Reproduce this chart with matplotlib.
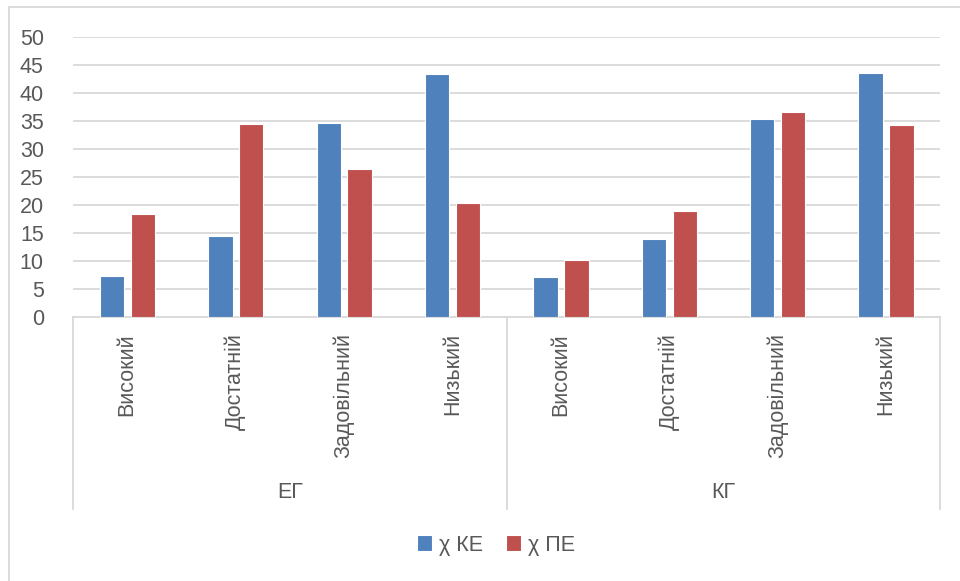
import numpy as np
import matplotlib
matplotlib.use("Agg")
import matplotlib.pyplot as plt
from matplotlib.transforms import blended_transform_factory
from matplotlib.patches import Rectangle

plt.rcParams['font.family'] = ['Liberation Sans', 'DejaVu Sans']

# data
levels = ["Високий", "Достатній", "Задовільний", "Низький"]
groups = ["ЕГ", "КГ"]
ke_eg = [7.3, 14.4, 34.6, 43.4]
pe_eg = [18.3, 34.5, 26.4, 20.4]
ke_kg = [7.1, 13.9, 35.3, 43.6]
pe_kg = [10.2, 18.9, 36.5, 34.2]
series_names = ["χ КЕ", "χ ПЕ"]
yticks = [0, 5, 10, 15, 20, 25, 30, 35, 40, 45, 50]

BLUE = "#4f81bd"
RED = "#c0504d"
GRID = "#d9d9d9"
TXT = "#595959"

W, H = 960, 581
fig = plt.figure(figsize=(W / 100, H / 100), dpi=100)
ax = fig.add_axes([73 / W, (H - 317) / H, (940 - 73) / W, (317 - 36.7) / H])

ke = ke_eg + ke_kg
pe = pe_eg + pe_kg
x = np.arange(len(ke))
bw = 0.225
ax.bar(x - 0.14, ke, bw, color=BLUE, edgecolor="white", linewidth=0.8, label=series_names[0], zorder=3)
ax.bar(x + 0.145, pe, bw, color=RED, edgecolor="white", linewidth=0.8, label=series_names[1], zorder=3)

ax.set_xlim(-0.5, len(ke) - 0.5)
ax.set_ylim(0, 50)
ax.set_yticks(yticks)
ax.yaxis.grid(True, color=GRID, linewidth=1.3, zorder=0)
ax.set_xticks([])
ax.tick_params(axis="y", length=0, pad=21, labelsize=15.5, labelcolor=TXT)
for s in ["top", "right", "left"]:
    ax.spines[s].set_visible(False)
ax.spines["bottom"].set_color(GRID)
ax.spines["bottom"].set_linewidth(1.3)

trans = blended_transform_factory(ax.transData, fig.transFigure)

# category labels, rotated
for i in x:
    lab = levels[i % len(levels)]
    ax.text(i, (H - 333) / H, lab, rotation=90, ha="center", va="top",
            fontsize=15.5, color=TXT, transform=trans)

# group separators
for xs in [-0.5, 3.5, 7.5]:
    ax.plot([xs, xs], [(H - 317) / H, (H - 509) / H], color=GRID, lw=1.3,
            transform=trans, clip_on=False)
for gi, g in enumerate(groups):
    ax.text(gi * 4 + 1.5, (H - 493) / H, g, ha="center", va="center",
            fontsize=15.5, color=TXT, transform=trans)

fig.legend(loc="center", bbox_to_anchor=(496 / W, (H - 545) / H), ncol=2,
           frameon=False, handlelength=0.7, handleheight=0.7, handletextpad=0.3,
           columnspacing=1.1, fontsize=15.5, labelcolor=TXT)

# outer chart frame (top and left visible)
fig.patches.append(Rectangle((9 / W, -0.1), 1.2, (H - 7) / H + 0.1,
                             transform=fig.transFigure, fill=False,
                             edgecolor=GRID, linewidth=1.3))

fig.savefig("out.png", dpi=100)
